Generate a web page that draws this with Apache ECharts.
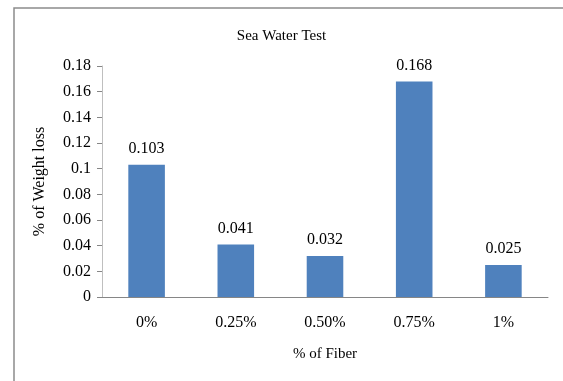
<!DOCTYPE html>
<html>
<head>
<meta charset="utf-8">
<script src="https://cdn.jsdelivr.net/npm/echarts@6/dist/echarts.min.js"></script>
<style>html,body{margin:0;padding:0;background:#fff;}#c{width:563px;height:381px;}</style>
</head>
<body>
<div id="c"></div>
<script>
const categories = ['0%', '0.25%', '0.50%', '0.75%', '1%'];
const weightLoss = [0.103, 0.041, 0.032, 0.168, 0.025];
const yTicks = [0, 0.02, 0.04, 0.06, 0.08, 0.1, 0.12, 0.14, 0.16, 0.18];

const chart = echarts.init(document.getElementById('c'), null, {renderer: 'canvas'});
const font = '"Liberation Serif", "Times New Roman", serif';
chart.setOption({
  animation: false,
  textStyle: {fontFamily: font},
  graphic: [{
    type: 'rect', shape: {x: 14, y: 8, width: 600, height: 400},
    style: {fill: 'none', stroke: '#8c8c8c', lineWidth: 1.5}, silent: true
  }],
  title: {
    text: 'Sea Water Test', left: 'center', top: 24,
    textStyle: {fontFamily: font, fontSize: 15, fontWeight: 'normal', color: '#000'}
  },
  grid: {left: 102, right: 15, top: 66, bottom: 84},
  xAxis: {
    type: 'category', data: categories,
    name: '% of Fiber', nameLocation: 'middle', nameGap: 50,
    nameTextStyle: {fontFamily: font, fontSize: 15, color: '#000'},
    axisLine: {lineStyle: {color: '#868686', width: 1}},
    axisTick: {show: false},
    axisLabel: {fontFamily: font, fontSize: 16, color: '#000', margin: 18}
  },
  yAxis: {
    type: 'value', min: 0, max: 0.18, interval: 0.02,
    name: '% of Weight loss', nameLocation: 'middle', nameGap: 54,
    nameTextStyle: {fontFamily: font, fontSize: 16, color: '#000'},
    axisLine: {show: true, lineStyle: {color: '#bfbfbf', width: 1}},
    axisTick: {show: true, length: 5, lineStyle: {color: '#868686'}},
    splitLine: {show: false},
    axisLabel: {
      fontFamily: font, fontSize: 16, color: '#000', margin: 11,
      formatter: v => { const t = yTicks.find(x => Math.abs(x - v) < 1e-9); return String(t !== undefined ? t : v); }
    }
  },
  series: [{
    type: 'bar', data: weightLoss, barWidth: '41%',
    itemStyle: {color: '#4F81BD'},
    label: {
      show: true, position: 'top', distance: 8,
      fontFamily: font, fontSize: 16, color: '#000',
      formatter: p => weightLoss[p.dataIndex].toFixed(3)
    }
  }]
});
</script>
</body>
</html>
